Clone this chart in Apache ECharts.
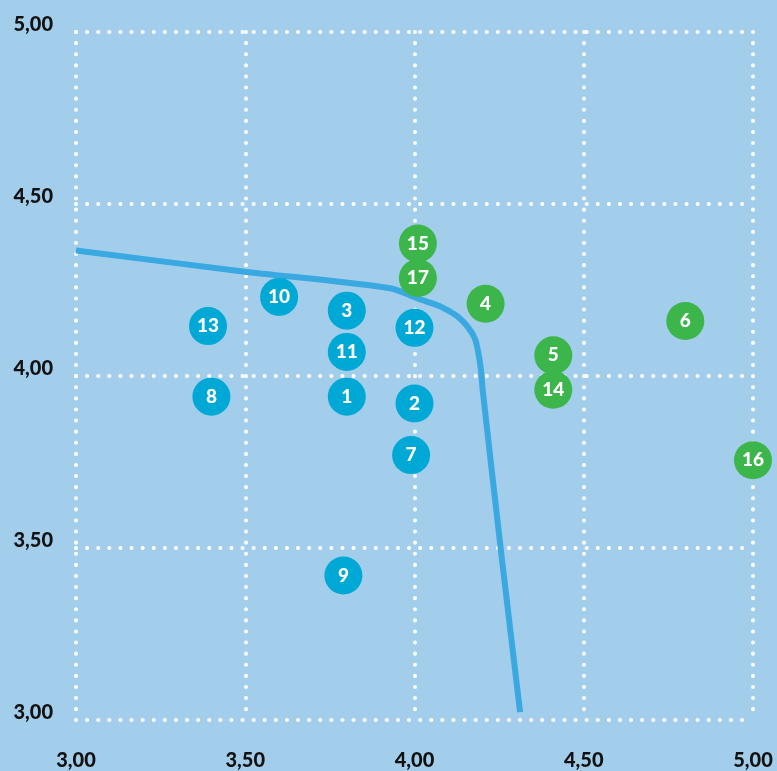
<!DOCTYPE html>
<html><head><meta charset="utf-8">
<script src="https://cdn.jsdelivr.net/npm/echarts@6/dist/echarts.min.js"></script>
<style>html,body{margin:0;padding:0;background:#a2cdeb;}#c{width:777px;height:771px;}</style>
</head><body><div id="c"></div>
<script>
const blueIds = ['1','2','3','7','8','9','10','11','12','13'];
const blueX = [3.80, 4.00, 3.80, 3.99, 3.40, 3.79, 3.60, 3.80, 4.00, 3.39];
const blueY = [3.94, 3.92, 4.19, 3.77, 3.94, 3.42, 4.23, 4.07, 4.14, 4.145];
const greenIds = ['4','5','6','14','15','16','17'];
const greenX = [4.21, 4.41, 4.80, 4.41, 4.01, 5.00, 4.01];
const greenY = [4.21, 4.06, 4.16, 3.96, 4.385, 3.755, 4.285];
const curveX = [3.00, 3.493, 3.928, 4.016, 4.075, 4.126, 4.158, 4.179, 4.188, 4.196, 4.202, 4.258, 4.312];
const curveY = [4.365, 4.304, 4.255, 4.223, 4.203, 4.174, 4.142, 4.107, 4.070, 4.020, 3.954, 3.470, 3.023];

const fmt = v => v.toFixed(2).replace('.', ',');
const zip = (xs, ys, ids) => xs.map((x, i) => ids ? {value: [x, ys[i]], name: ids[i]} : [x, ys[i]]);

const gridLine = {show: true, lineStyle: {color: '#ffffff', width: 4, type: [0.1, 11], cap: 'round'}};
const labelFont = {color: '#111', fontFamily: 'Lato', fontWeight: 900, fontSize: 20};

const chart = echarts.init(document.getElementById('c'));
chart.setOption({
  backgroundColor: '#a2cdeb',
  animation: false,
  grid: {left: 76, right: 24, top: 32, bottom: 49},
  xAxis: {type: 'value', min: 3, max: 5, interval: 0.5,
    axisLine: {show: false}, axisTick: {show: false}, splitLine: gridLine,
    axisLabel: Object.assign({formatter: fmt, margin: 31}, labelFont)},
  yAxis: {type: 'value', min: 3, max: 5, interval: 0.5,
    axisLine: {show: false}, axisTick: {show: false}, splitLine: gridLine,
    axisLabel: Object.assign({formatter: fmt, margin: 23, verticalAlign: 'bottom', lineHeight: 14}, labelFont)},
  series: [
    {type: 'line', data: zip(curveX, curveY), smooth: 0.25, symbol: 'none',
      lineStyle: {color: '#3aa9e1', width: 6}, z: 2},
    {type: 'scatter', data: zip(blueX, blueY, blueIds), symbolSize: 38,
      itemStyle: {color: '#00a8d6', opacity: 1}, z: 3,
      label: {show: true, position: 'inside', formatter: p => p.name, color: '#fff',
        fontFamily: 'Lato', fontWeight: 900, fontSize: 19}},
    {type: 'scatter', data: zip(greenX, greenY, greenIds), symbolSize: 38,
      itemStyle: {color: '#3cb64a', opacity: 1}, z: 3,
      label: {show: true, position: 'inside', formatter: p => p.name, color: '#fff',
        fontFamily: 'Lato', fontWeight: 900, fontSize: 19}}
  ]
});
</script></body></html>
